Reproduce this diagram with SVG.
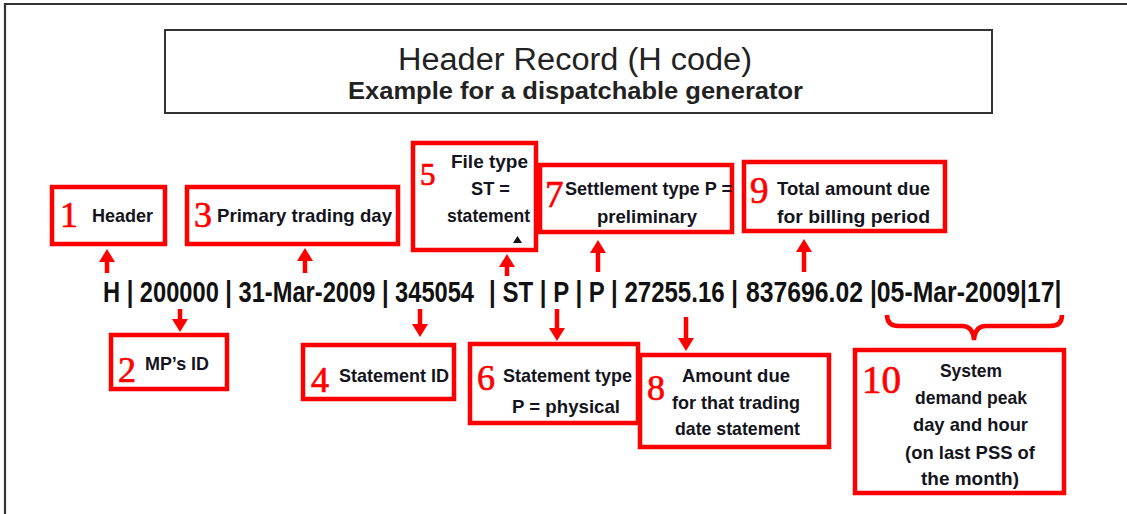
<svg xmlns="http://www.w3.org/2000/svg" width="1127" height="514" viewBox="0 0 1127 514">
<style>
.box{fill:#fff;stroke:#ff0000;stroke-width:4.5}
.num{font-family:"Liberation Serif",serif;fill:#ff0000;stroke:#ff0000;stroke-width:0.7;font-size:36px}
.lbl{font-family:"Liberation Sans",sans-serif;font-weight:bold;font-size:19px;fill:#141420}
.rec{font-family:"Liberation Sans",sans-serif;font-weight:bold;font-size:29px;fill:#111}
.arr{stroke:#ff0000;stroke-width:4.5;fill:none}
</style>
<defs>
<marker id="ah" markerUnits="userSpaceOnUse" markerWidth="13" markerHeight="16" refX="2" refY="8" orient="auto" viewBox="0 0 13 16">
<path d="M0,0 L13,8 L0,16 Z" fill="#ff0000"/>
</marker>
</defs>
<rect width="1127" height="514" fill="#fff"/>
<path d="M5,514 V4 H1127" fill="none" stroke="#333" stroke-width="2.2"/>

<g id="title">
<rect x="165" y="30" width="827" height="83" fill="#fff" stroke="#333" stroke-width="2"/>
<text x="398" y="70" textLength="354" lengthAdjust="spacingAndGlyphs" font-family="Liberation Sans,sans-serif" font-size="31" fill="#222">Header Record (H code)</text>
<text x="348" y="99" textLength="455" lengthAdjust="spacingAndGlyphs" font-family="Liberation Sans,sans-serif" font-weight="bold" font-size="24" fill="#222">Example for a dispatchable generator</text>
</g>

<g id="record">
<text class="rec" transform="translate(103,302) scale(0.83,1)" textLength="447" lengthAdjust="spacingAndGlyphs">H | 200000 | 31-Mar-2009 | 345054</text>
<text class="rec" transform="translate(489,302) scale(0.83,1)" textLength="300" lengthAdjust="spacingAndGlyphs">| ST | P | P | 27255.16 |</text>
<text class="rec" transform="translate(746,302) scale(0.83,1)" textLength="380" lengthAdjust="spacingAndGlyphs">837696.02 |05-Mar-2009|17|</text>
</g>

<g id="n1">
<rect class="box" x="52" y="187" width="113" height="57"/>
<text class="num" x="60" y="227">1</text>
<text class="lbl" x="92" y="222" textLength="61" lengthAdjust="spacingAndGlyphs">Header</text>
</g>
<g id="n3">
<rect class="box" x="187" y="187" width="211" height="57"/>
<text class="num" x="194" y="227">3</text>
<text class="lbl" x="217" y="222" textLength="175" lengthAdjust="spacingAndGlyphs">Primary trading day</text>
</g>
<g id="n5">
<rect class="box" x="413" y="143" width="123" height="107"/>
<text class="num" x="420" y="185" style="font-size:31px">5</text>
<text class="lbl" x="451" y="168" textLength="77" lengthAdjust="spacingAndGlyphs">File type</text>
<text class="lbl" x="471" y="195" textLength="39" lengthAdjust="spacingAndGlyphs">ST =</text>
<text class="lbl" x="447" y="222" textLength="83" lengthAdjust="spacingAndGlyphs">statement</text>
<path d="M513,243 L517.5,236 L522,243 Z" fill="#111"/>
</g>
<g id="n7">
<rect class="box" x="540" y="165" width="192" height="67"/>
<text class="num" x="545" y="207" style="font-size:37px">7</text>
<text class="lbl" x="565" y="195" textLength="167" lengthAdjust="spacingAndGlyphs">Settlement type P =</text>
<text class="lbl" x="597" y="223" textLength="100" lengthAdjust="spacingAndGlyphs">preliminary</text>
</g>
<g id="n9">
<rect class="box" x="744" y="162" width="201" height="69"/>
<text class="num" x="750" y="203" style="font-size:37px">9</text>
<text class="lbl" x="777" y="195" textLength="153" lengthAdjust="spacingAndGlyphs">Total amount due</text>
<text class="lbl" x="777" y="223" textLength="153" lengthAdjust="spacingAndGlyphs">for billing period</text>
</g>
<g id="n2">
<rect class="box" x="111" y="335" width="116" height="54"/>
<text class="num" x="118" y="382">2</text>
<text class="lbl" x="145" y="370" textLength="64" lengthAdjust="spacingAndGlyphs">MP’s ID</text>
</g>
<g id="n4">
<rect class="box" x="303" y="345" width="151" height="54"/>
<text class="num" x="311" y="392">4</text>
<text class="lbl" x="339" y="382" textLength="110" lengthAdjust="spacingAndGlyphs">Statement ID</text>
</g>
<g id="n6">
<rect class="box" x="470" y="344" width="168" height="79"/>
<text class="num" x="477" y="390">6</text>
<text class="lbl" x="503" y="382" textLength="129" lengthAdjust="spacingAndGlyphs">Statement type</text>
<text class="lbl" x="512" y="413" textLength="108" lengthAdjust="spacingAndGlyphs">P = physical</text>
</g>
<g id="n8">
<rect class="box" x="640" y="355" width="189" height="92"/>
<text class="num" x="647" y="400">8</text>
<text class="lbl" x="682" y="382" textLength="108" lengthAdjust="spacingAndGlyphs">Amount due</text>
<text class="lbl" x="672" y="409" textLength="128" lengthAdjust="spacingAndGlyphs">for that trading</text>
<text class="lbl" x="675" y="435" textLength="125" lengthAdjust="spacingAndGlyphs">date statement</text>
</g>
<g id="n10">
<rect class="box" x="855" y="350" width="209" height="143"/>
<text class="num" x="862" y="393" style="font-size:39px">10</text>
<text class="lbl" x="940" y="377" textLength="62" lengthAdjust="spacingAndGlyphs">System</text>
<text class="lbl" x="915" y="404" textLength="112" lengthAdjust="spacingAndGlyphs">demand peak</text>
<text class="lbl" x="913" y="431" textLength="115" lengthAdjust="spacingAndGlyphs">day and hour</text>
<text class="lbl" x="905" y="459" textLength="130" lengthAdjust="spacingAndGlyphs">(on last PSS of</text>
<text class="lbl" x="921" y="485" textLength="98" lengthAdjust="spacingAndGlyphs">the month)</text>
</g>

<g id="connectors">
<line class="arr" x1="107" y1="273" x2="107" y2="260" marker-end="url(#ah)"/>
<line class="arr" x1="305" y1="273" x2="305" y2="259" marker-end="url(#ah)"/>
<line class="arr" x1="507" y1="276" x2="507" y2="265" marker-end="url(#ah)"/>
<line class="arr" x1="598" y1="272" x2="598" y2="251" marker-end="url(#ah)"/>
<line class="arr" x1="804" y1="272" x2="804" y2="250" marker-end="url(#ah)"/>
<line class="arr" x1="180" y1="309" x2="180" y2="321" marker-end="url(#ah)"/>
<line class="arr" x1="420" y1="309" x2="420" y2="326" marker-end="url(#ah)"/>
<line class="arr" x1="557" y1="309" x2="557" y2="330" marker-end="url(#ah)"/>
<line class="arr" x1="686" y1="317" x2="686" y2="340" marker-end="url(#ah)"/>
<path class="arr" d="M887,315 Q887,326 899,326 H962 Q973,326 974,340 Q975,326 986,326 H1050 Q1062,326 1062,315"/>
</g>
</svg>
